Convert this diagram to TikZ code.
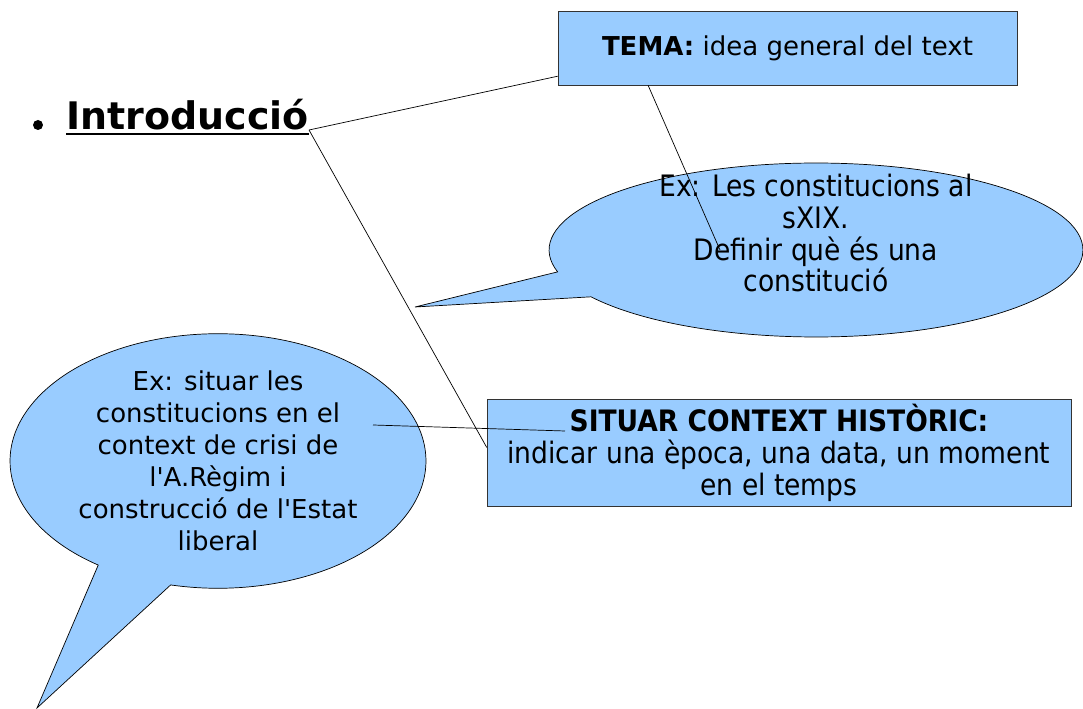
\documentclass[tikz,border=0pt]{standalone}
\usepackage{fontspec}
\setmainfont{DejaVu Sans}
\newfontfamily\condfont{DejaVu Sans Condensed}
\usetikzlibrary{shapes.callouts}
\definecolor{bubbleblue}{RGB}{153,204,255}
\newcommand\headul[1]{\setbox0\hbox{#1}\rlap{\rule[-3pt]{\wd0}{1.1pt}}\box0}
\begin{document}
\begin{tikzpicture}[x=0.02cm,y=-0.02cm,
  box/.style={draw=black!80,fill=bubbleblue,inner sep=0pt,align=center},
  bubble/.style={ellipse callout,draw,fill=bubbleblue,inner sep=0pt,align=center,callout pointer arc=22},
  txt/.style={font=\fontsize{14.8}{18.2}\selectfont},
  condtxt/.style={font=\condfont\fontsize{16.8}{18.2}\selectfont}]
\useasboundingbox (0,0) rectangle (1083,709);

\node[circle,fill,inner sep=0pt,minimum size=0.2cm] (dot) at (38,125) {};
\node[anchor=base west,inner sep=0pt,font=\fontsize{21.6}{25}\selectfont\bfseries] (intro) at (66,130) {\headul{Introducció}};

\node[box,minimum width=9.18cm,minimum height=1.48cm,txt] (tema) at (787.5,48) {\textbf{TEMA:} idea general del text};
\node[box,minimum width=11.68cm,minimum height=2.14cm,condtxt] (situar) at (779,452.5)
  {\textbf{SITUAR CONTEXT HISTÒRIC:}\\ indicar una època, una data, un moment\\ en el temps};

\node[bubble,minimum width=10.68cm,minimum height=3.48cm,condtxt,callout pointer arc=18,
  text height=51.8pt,text depth=4pt,
  callout absolute pointer={(415,307)}] (exconst) at (816,250)
  {Ex: Les constitucions al\\ sXIX.\\ Definir què és una\\ constitució};
\node[bubble,minimum width=8.32cm,minimum height=4.92cm,txt,
  callout absolute pointer={(37,708)}] (excontext) at (218,461)
  {Ex: situar les\\ constitucions en el\\ context de crisi de\\ l\textquotesingle A.Règim i\\ construcció de l\textquotesingle Estat\\ liberal};

\coordinate (temaend) at (720,250);
\coordinate (ctxstart) at (373,425);
\coordinate (ctxend) at (565,431);

\path[draw,thin] (intro.base east) -- (tema.187);
\path[draw,thin] (intro.base east) -- (situar.179);
\path[draw,thin] (tema.195) -- (temaend);
\path[draw,thin] (ctxstart) -- (ctxend);
\end{tikzpicture}
\end{document}
